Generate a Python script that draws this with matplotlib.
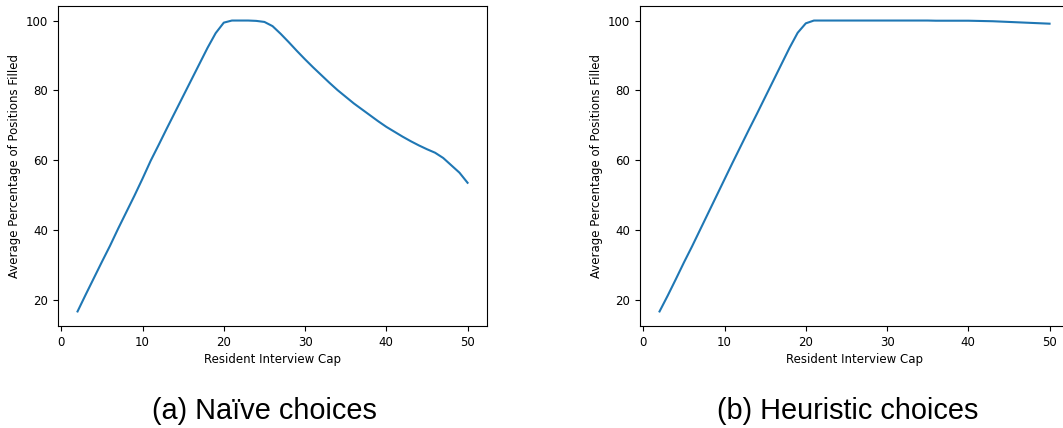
import matplotlib
matplotlib.use("Agg")
import matplotlib.pyplot as plt

# interview cap values (x axis)
caps = list(range(2, 51))

# average % of positions filled, naive choices
naive = [16.8, 21.6, 26.3, 31.0, 35.6, 40.5, 45.2, 49.9, 54.8, 59.9,
         64.5, 69.2, 73.8, 78.4, 83.0, 87.6, 92.2, 96.4, 99.4, 100.0,
         100.0, 100.0, 99.9, 99.6, 98.4, 96.2, 93.8, 91.3, 88.9, 86.6,
         84.4, 82.2, 80.1, 78.2, 76.3, 74.6, 72.9, 71.2, 69.6, 68.2,
         66.8, 65.5, 64.3, 63.2, 62.2, 60.7, 58.6, 56.5, 53.6]

# average % of positions filled, heuristic choices
heuristic = [16.8, 21.3, 26.0, 30.8, 35.4, 40.2, 45.0, 49.8, 54.6, 59.4,
             64.1, 68.8, 73.4, 78.1, 82.8, 87.5, 92.2, 96.5, 99.2, 100.0,
             100.0, 100.0, 100.0, 100.0, 100.0, 100.0, 100.0, 100.0, 100.0, 100.0,
             100.0, 100.0, 100.0, 100.0, 99.95, 99.95, 99.95, 99.95, 99.95, 99.9,
             99.85, 99.8, 99.7, 99.6, 99.5, 99.4, 99.3, 99.2, 99.1]

captions = ["(a) Naïve choices", "(b) Heuristic choices"]

fig = plt.figure(figsize=(10.63, 4.28), dpi=100)
ax1 = fig.add_axes([0.0546, 0.2383, 0.4036, 0.7477])
ax2 = fig.add_axes([0.6021, 0.2383, 0.4036, 0.7477])

for ax, vals in [(ax1, naive), (ax2, heuristic)]:
    ax.plot(caps, vals, color="#1f77b4", linewidth=1.5)
    ax.set_xlabel("Resident Interview Cap", fontsize=8.5, labelpad=3)
    ax.set_ylabel("Average Percentage of Positions Filled", fontsize=8.5)
    ax.tick_params(labelsize=8.5)
    ax.set_xticks([0, 10, 20, 30, 40, 50])
    ax.set_yticks([20, 40, 60, 80, 100])

# right panel runs off the edge of the page in the original
ax2.spines["right"].set_visible(False)

fig.text(0.2486, 0.040, captions[0], ha="center", va="center",
         fontsize=20.8, family="Liberation Sans")
fig.text(0.7977, 0.040, captions[1], ha="center", va="center",
         fontsize=20.8, family="Liberation Sans")

fig.savefig("out.png", dpi=100)
